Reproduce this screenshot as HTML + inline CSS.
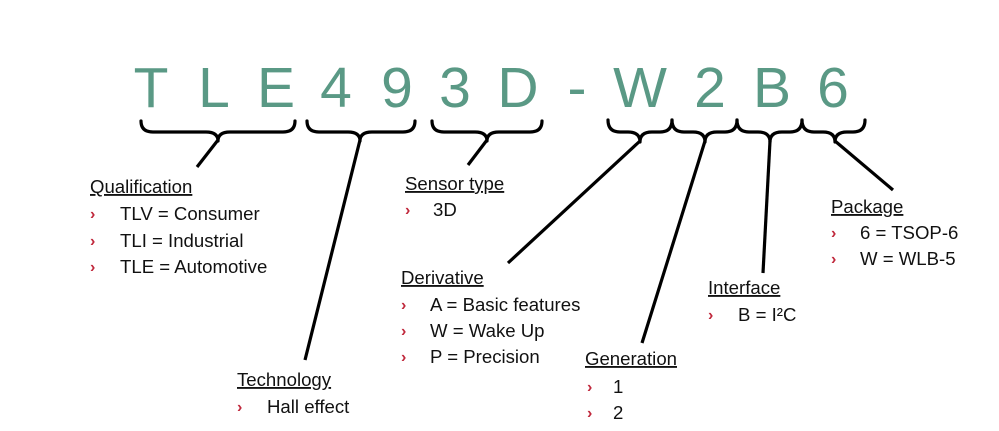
<!DOCTYPE html>
<html><head><meta charset="utf-8"><style>
html,body{margin:0;padding:0;background:#fff;}
svg{display:block;}
.big{font-family:"Liberation Sans",Arial,sans-serif;font-size:57px;fill:#5a9985;text-anchor:middle;}
.h{font-family:"Liberation Sans",Arial,sans-serif;font-size:18.6px;fill:#111;text-decoration:underline;}
.t{font-family:"Liberation Sans",Arial,sans-serif;font-size:18.6px;fill:#111;}
.b{font-family:"Liberation Sans",Arial,sans-serif;font-size:16px;font-weight:bold;fill:#c0283c;}
.br{fill:none;stroke:#000;stroke-width:3.2;stroke-linecap:round;stroke-linejoin:round;}
.ln{stroke:#000;stroke-width:3.2;stroke-linecap:butt;}
</style></head><body>
<svg width="999" height="431" viewBox="0 0 999 431" xmlns="http://www.w3.org/2000/svg">
<text class="big" x="151" y="107">T</text>
<text class="big" x="214" y="107">L</text>
<text class="big" x="276" y="107">E</text>
<text class="big" x="336" y="107">4</text>
<text class="big" x="397" y="107">9</text>
<text class="big" x="455" y="107">3</text>
<text class="big" x="518" y="107">D</text>
<text class="big" x="577" y="107">-</text>
<text class="big" x="640" y="107">W</text>
<text class="big" x="710" y="107">2</text>
<text class="big" x="772" y="107">B</text>
<text class="big" x="833" y="107">6</text>

<!-- braces -->
<path class="br" d="M141,121 Q141,132 153,132 L206,132 Q218,132 218,141 Q218,132 230,132 L283,132 Q295,132 295,121"/>
<path class="br" d="M307,121 Q307,132 319,132 L348,132 Q360,132 360,141 Q360,132 372,132 L403,132 Q415,132 415,121"/>
<path class="br" d="M432,121 Q432,132 444,132 L475,132 Q487,132 487,141 Q487,132 499,132 L530,132 Q542,132 542,121"/>
<path class="br" d="M608,120 Q608,132 620,132 L628,132 Q640,132 640,142 Q640,132 652,132 L660,132 Q672,132 672,120"/>
<path class="br" d="M672,120 Q672,132 684,132 L693,132 Q705,132 705,142 Q705,132 717,132 L725,132 Q737,132 737,120"/>
<path class="br" d="M737,120 Q737,132 749,132 L758,132 Q770,132 770,142 Q770,132 782,132 L790,132 Q802,132 802,120"/>
<path class="br" d="M802,120 Q802,132 814,132 L823,132 Q835,132 835,142 Q835,132 847,132 L853,132 Q865,132 865,120"/>

<!-- connectors -->
<line class="ln" x1="218" y1="140" x2="197" y2="167"/>
<line class="ln" x1="360" y1="140" x2="305" y2="360"/>
<line class="ln" x1="487" y1="140" x2="468" y2="165"/>
<line class="ln" x1="640" y1="141" x2="508" y2="263"/>
<line class="ln" x1="705" y1="141" x2="642" y2="343"/>
<line class="ln" x1="770" y1="141" x2="763" y2="273"/>
<line class="ln" x1="835" y1="141" x2="893" y2="190"/>

<!-- Qualification -->
<text class="h" x="90" y="193">Qualification</text>
<text class="b" x="90" y="219">›</text><text class="t" x="120" y="220">TLV = Consumer</text>
<text class="b" x="90" y="246">›</text><text class="t" x="120" y="247">TLI = Industrial</text>
<text class="b" x="90" y="272">›</text><text class="t" x="120" y="273">TLE = Automotive</text>

<!-- Sensor type -->
<text class="h" x="405" y="190">Sensor type</text>
<text class="b" x="405" y="215">›</text><text class="t" x="433" y="216">3D</text>

<!-- Derivative -->
<text class="h" x="401" y="284">Derivative</text>
<text class="b" x="401" y="310">›</text><text class="t" x="430" y="311">A = Basic features</text>
<text class="b" x="401" y="336">›</text><text class="t" x="430" y="337">W = Wake Up</text>
<text class="b" x="401" y="362">›</text><text class="t" x="430" y="363">P = Precision</text>

<!-- Generation -->
<text class="h" x="585" y="365">Generation</text>
<text class="b" x="587" y="392">›</text><text class="t" x="613" y="393">1</text>
<text class="b" x="587" y="418">›</text><text class="t" x="613" y="419">2</text>

<!-- Technology -->
<text class="h" x="237" y="386">Technology</text>
<text class="b" x="237" y="412">›</text><text class="t" x="267" y="413">Hall effect</text>

<!-- Interface -->
<text class="h" x="708" y="294">Interface</text>
<text class="b" x="708" y="320">›</text><text class="t" x="738" y="321">B = I²C</text>

<!-- Package -->
<text class="h" x="831" y="213">Package</text>
<text class="b" x="831" y="238">›</text><text class="t" x="860" y="239">6 = TSOP-6</text>
<text class="b" x="831" y="264">›</text><text class="t" x="860" y="265">W = WLB-5</text>
</svg>
</body></html>
